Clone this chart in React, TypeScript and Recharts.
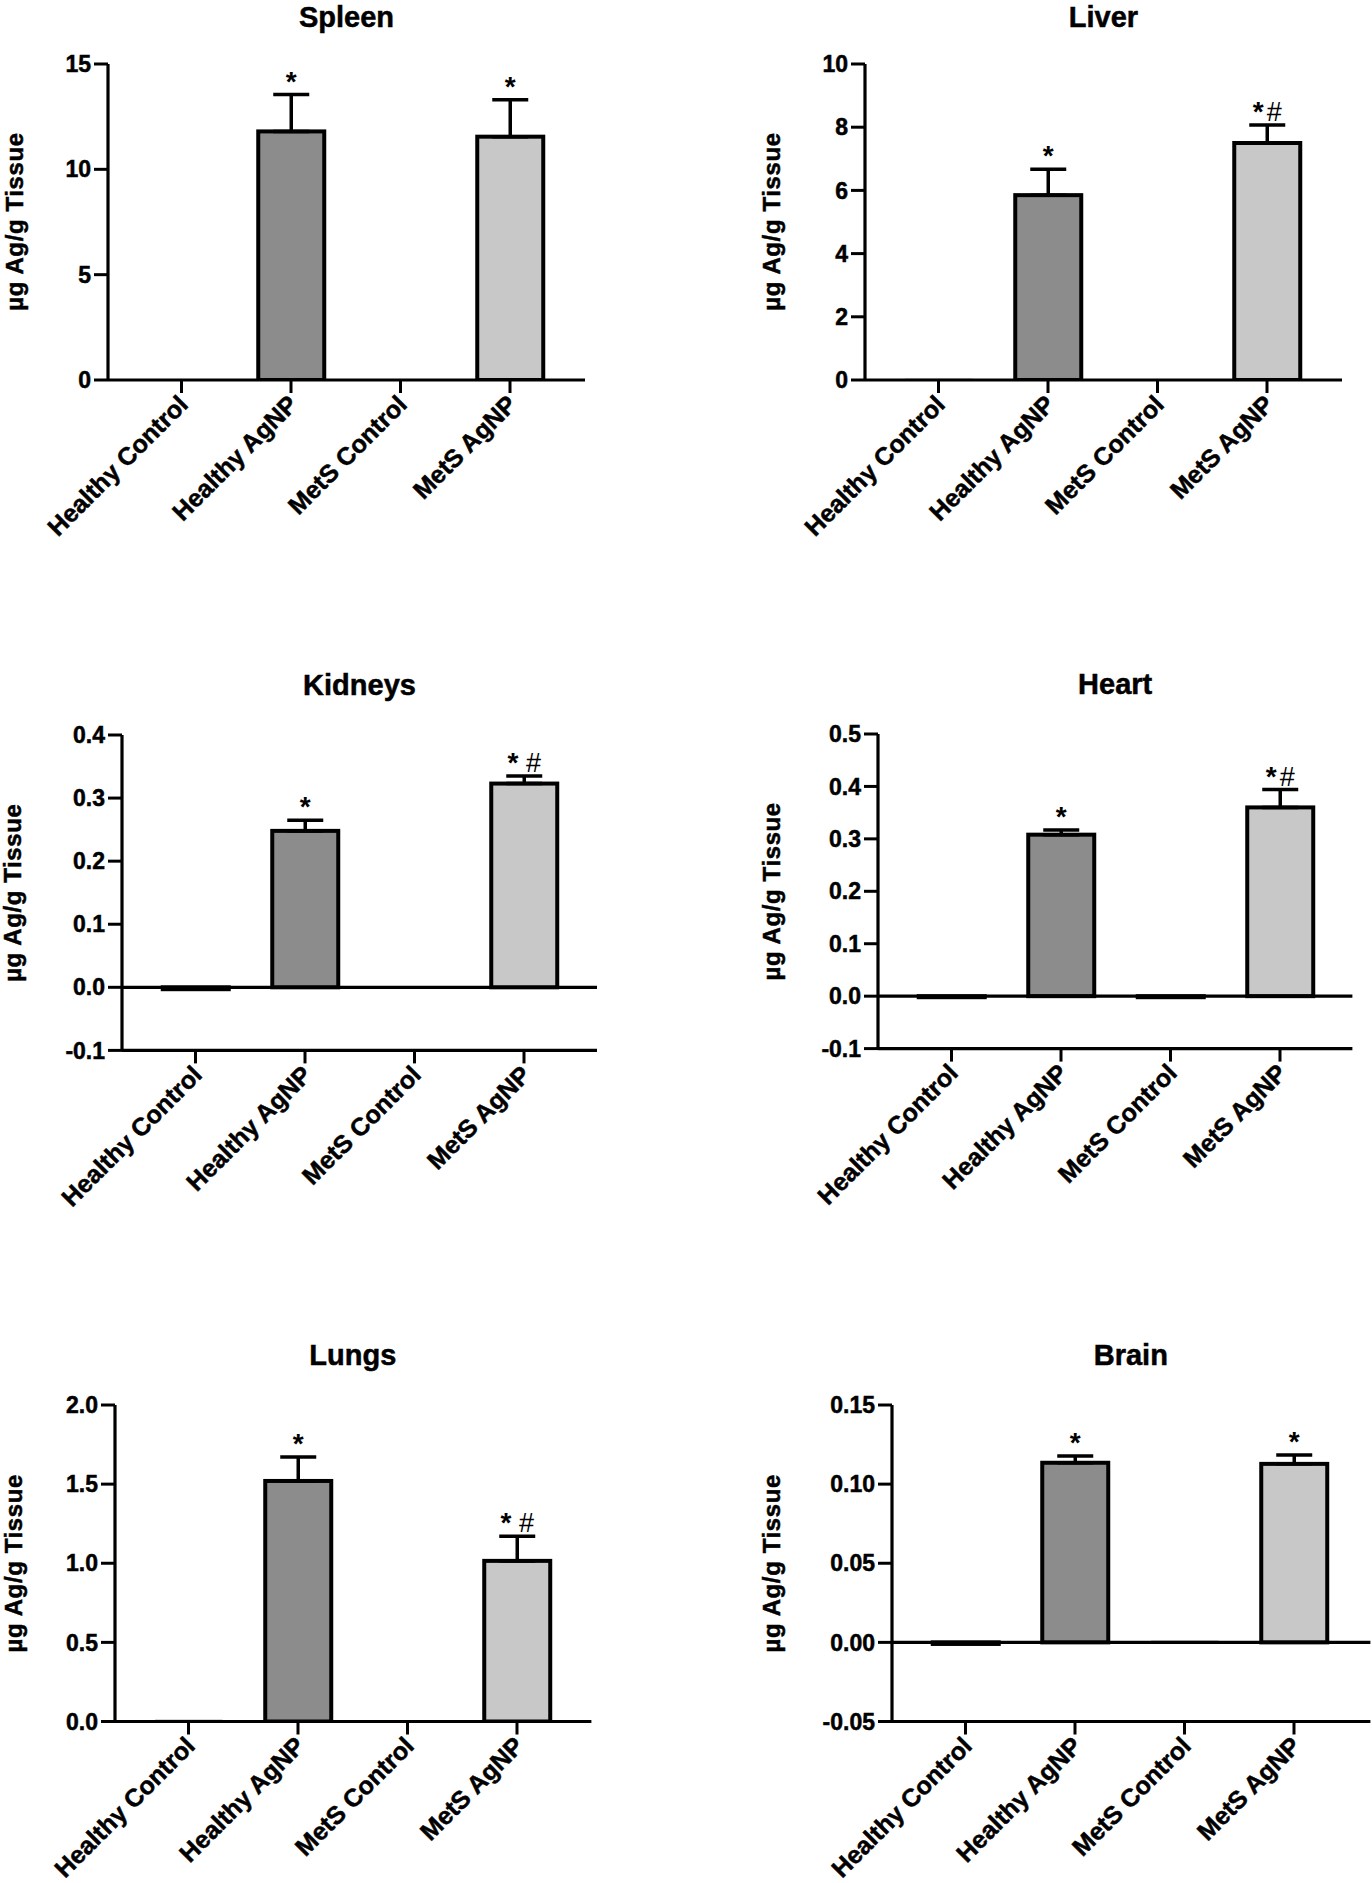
import React from "react";
import { BarChart, Bar, XAxis, YAxis, ErrorBar, ReferenceLine, Cell } from "recharts";

const categories = ["Healthy Control", "Healthy AgNP", "MetS Control", "MetS AgNP"];

const spleenMean = [0, 11.8, 0, 11.55];
const spleenSem = [0, 1.75, 0, 1.75];
const spleenSig = ["", "*", "", "*"];
const spleenTicks = [0, 5, 10, 15];

const liverMean = [0.03, 5.85, 0, 7.5];
const liverSem = [0, 0.82, 0, 0.57];
const liverSig = ["", "*", "", "*#"];
const liverTicks = [0, 2, 4, 6, 8, 10];

const kidneyMean = [-0.003, 0.248, 0, 0.323];
const kidneySem = [0, 0.017, 0, 0.012];
const kidneySig = ["", "*", "", "* #"];
const kidneyTicks = [-0.1, 0, 0.1, 0.2, 0.3, 0.4];

const heartMean = [-0.002, 0.308, -0.002, 0.36];
const heartSem = [0, 0.009, 0, 0.034];
const heartSig = ["", "*", "", "*#"];
const heartTicks = [-0.1, 0, 0.1, 0.2, 0.3, 0.4, 0.5];

const lungMean = [0.01, 1.52, 0, 1.015];
const lungSem = [0, 0.152, 0, 0.155];
const lungSig = ["", "*", "", "* #"];
const lungTicks = [0, 0.5, 1, 1.5, 2];

const brainMean = [-0.001, 0.1135, 0.001, 0.1128];
const brainSem = [0, 0.0042, 0, 0.0056];
const brainSig = ["", "*", "", "*"];
const brainTicks = [-0.05, 0, 0.05, 0.1, 0.15];

const FONT = "'Liberation Sans', Arial, Helvetica, sans-serif";
const fills = ["#ffffff", "#8c8c8c", "#ffffff", "#c8c8c8"];
const Y_LABEL = "µg Ag/g Tissue";

// layout of each plot area (page pixels)
const panels = [
  { title: "Spleen", mean: spleenMean, sem: spleenSem, sig: spleenSig, ticks: spleenTicks, digits: 0, left: 108, right: 585, top: 63.5, bottom: 379.5, labelX: 14.5 },
  { title: "Liver", mean: liverMean, sem: liverSem, sig: liverSig, ticks: liverTicks, digits: 0, left: 865, right: 1342, top: 63.5, bottom: 379.5, labelX: 771.8 },
  { title: "Kidneys", mean: kidneyMean, sem: kidneySem, sig: kidneySig, ticks: kidneyTicks, digits: 1, left: 122, right: 597, top: 735, bottom: 1050.4, labelX: 13 },
  { title: "Heart", mean: heartMean, sem: heartSem, sig: heartSig, ticks: heartTicks, digits: 1, left: 878, right: 1352.4, top: 734, bottom: 1048.6, labelX: 771.5 },
  { title: "Lungs", mean: lungMean, sem: lungSem, sig: lungSig, ticks: lungTicks, digits: 1, left: 114.6, right: 591, top: 1405, bottom: 1721.5, labelX: 13 },
  { title: "Brain", mean: brainMean, sem: brainSem, sig: brainSig, ticks: brainTicks, digits: 2, left: 891.6, right: 1370, top: 1405, bottom: 1721.5, labelX: 771.5 },
];

const Y_AXIS_W = 100;
const TOP_PAD = 40;
const X_AXIS_H = 200;

function CategoryTick(props: any) {
  const { x, y, payload } = props;
  const px = x + 8;
  const py = y + 11;
  return (
    <text
      x={px}
      y={py}
      transform={`rotate(-45, ${px}, ${py})`}
      textAnchor="end"
      fontFamily={FONT}
      fontWeight="bold"
      fontSize={25}
      fill="#000"
      stroke="#000"
      strokeWidth={0.5}
    >
      {payload.value}
    </text>
  );
}

function BarShape(props: any) {
  const { x, y, width, height, payload, fill } = props;
  const top = Math.min(y, y + height);
  const h = Math.abs(height);
  if (!h) return null;
  const faint = payload.mean > 0 && h < 3;
  let mark = null;
  if (payload.sig && payload.mean > 0) {
    const errTop = top - (payload.semVal * h) / payload.mean;
    const chars = payload.sig.split("");
    mark = (
      <text x={x + width / 2} y={errTop - 4} textAnchor="middle" fontFamily={FONT} fill="#000">
        {chars.map((c: string, i: number) =>
          c === "#" ? (
            <tspan key={i} fontSize={27} fontWeight="normal" dx={chars[i - 1] === "*" ? 3 : 0}>#</tspan>
          ) : (
            <tspan key={i} fontSize={28} fontWeight="bold">{c}</tspan>
          )
        )}
      </text>
    );
  }
  return (
    <g>
      <rect
        x={x}
        y={top}
        width={width}
        height={h}
        fill={fill}
        stroke={faint ? "#cfcfcf" : "#000"}
        strokeWidth={faint ? 1.5 : 4}
      />
      {mark}
    </g>
  );
}

function Panel({ p }: { p: (typeof panels)[number] }) {
  const data = categories.map((name, i) => ({
    name,
    mean: p.mean[i],
    semVal: p.sem[i],
    err: p.sem[i] ? [0, p.sem[i]] : null,
    sig: p.sig[i],
  }));
  const plotW = p.right - p.left;
  const spacing = 109.5;
  const padL = 73.5 - spacing / 2;
  const padR = plotW - spacing * 4 - padL;
  const width = Y_AXIS_W + plotW + 2;
  const height = TOP_PAD + (p.bottom - p.top) + X_AXIS_H;
  const lo = p.ticks[0];
  const hi = p.ticks[p.ticks.length - 1];
  return (
    <div style={{ position: "absolute", left: p.left - Y_AXIS_W, top: p.top - TOP_PAD }}>
      <BarChart width={width} height={height} data={data} margin={{ top: TOP_PAD, right: 2, bottom: 0, left: 0 }}>
        <XAxis
          dataKey="name"
          interval={0}
          height={X_AXIS_H}
          padding={{ left: padL, right: padR }}
          tickSize={13}
          tickMargin={2}
          axisLine={{ stroke: "#000", strokeWidth: 3.2 }}
          tickLine={{ stroke: "#000", strokeWidth: 3 }}
          tick={<CategoryTick />}
        />
        <YAxis
          width={Y_AXIS_W}
          domain={[lo, hi]}
          ticks={p.ticks}
          interval={0}
          allowDataOverflow
          tickSize={14}
          tickMargin={3}
          axisLine={{ stroke: "#000", strokeWidth: 3.2 }}
          tickLine={{ stroke: "#000", strokeWidth: 3 }}
          tick={{ fontSize: 23, fontWeight: "bold", fill: "#000", stroke: "#000", strokeWidth: 0.5, fontFamily: FONT }}
          tickFormatter={(v: number) => v.toFixed(p.digits)}
        />
        {lo < 0 && <ReferenceLine y={0} stroke="#000" strokeWidth={3.2} />}
        <Bar dataKey="mean" barSize={66} isAnimationActive={false} shape={<BarShape />}>
          {data.map((d, i) => (
            <Cell key={d.name} fill={fills[i]} />
          ))}
          <ErrorBar dataKey="err" width={18} stroke="#000" strokeWidth={3.5} />
        </Bar>
      </BarChart>
    </div>
  );
}

export default function App() {
  return (
    <div style={{ position: "absolute", left: 0, top: 0, width: 1372, height: 1883, background: "#fff", overflow: "hidden" }}>
      <svg width={1372} height={1883} style={{ position: "absolute", left: 0, top: 0 }}>
        {panels.map((p) => {
          const cy = (p.top + p.bottom) / 2;
          const titleBase = Math.max(p.top - 40, 26.5);
          return (
            <g key={p.title}>
              <text
                x={(p.left + p.right) / 2}
                y={titleBase}
                textAnchor="middle"
                fontFamily={FONT}
                fontWeight="bold"
                fontSize={29}
                fill="#000"
                stroke="#000"
                strokeWidth={0.5}
              >
                {p.title}
              </text>
              <text
                x={p.labelX}
                y={cy}
                transform={`rotate(-90, ${p.labelX}, ${cy})`}
                textAnchor="middle"
                dominantBaseline="central"
                fontFamily={FONT}
                fontWeight="bold"
                fontSize={24}
                letterSpacing={0.6}
                fill="#000"
                stroke="#000"
                strokeWidth={0.5}
              >
                {Y_LABEL}
              </text>
            </g>
          );
        })}
      </svg>
      {panels.map((p) => (
        <Panel key={p.title} p={p} />
      ))}
    </div>
  );
}
